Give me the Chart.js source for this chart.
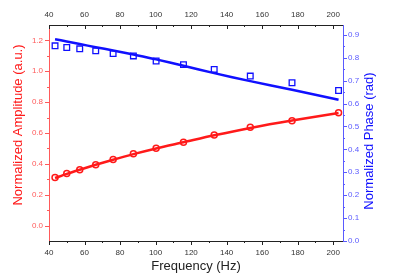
<!DOCTYPE html>
<html>
<head>
<meta charset="utf-8">
<script src="https://cdn.jsdelivr.net/npm/chart.js@4/dist/chart.umd.min.js"></script>
<style>
  html, body { margin: 0; padding: 0; background: #fff; }
  canvas { display: block; }
</style>
</head>
<body>
<canvas id="c" width="395" height="278"></canvas>
<script>
// Frequency points (Hz)
const freq = [43.4, 50, 57.3, 66.3, 76.1, 87.5, 100.3, 115.7, 133, 153.3, 176.8, 203];
// Normalized amplitude (measured, circles) and fit line
const ampData = [0.312, 0.337, 0.361, 0.395, 0.428, 0.465, 0.501, 0.540, 0.587, 0.637, 0.679, 0.731];
const ampFit = [0.308, 0.335, 0.362, 0.394, 0.427, 0.463, 0.500, 0.540, 0.585, 0.633, 0.681, 0.729];
// Normalized phase (measured, squares) and fit line
const phaseData = [0.852, 0.845, 0.839, 0.830, 0.818, 0.808, 0.786, 0.770, 0.749, 0.720, 0.691, 0.657];
const phaseFit = [0.881, 0.871, 0.860, 0.846, 0.832, 0.814, 0.793, 0.765, 0.733, 0.698, 0.660, 0.617];

// tick labels
const xTicks = [40, 60, 80, 100, 120, 140, 160, 180, 200];
const ampTicks = [0.0, 0.2, 0.4, 0.6, 0.8, 1.0, 1.2];
const phaseTicks = [0.0, 0.1, 0.2, 0.3, 0.4, 0.5, 0.6, 0.7, 0.8, 0.9];

const RED = '#ff1a1a';
const RED_AXIS = '#ff5a5a';
const BLUE = '#1010ff';
const BLUE_AXIS = '#5a5aff';
const FONT = '"Liberation Sans", Arial, sans-serif';

const pts = (xs, ys) => xs.map((x, i) => ({ x: x, y: ys[i] }));
const setTicks = vals => scale => { scale.ticks = vals.map(v => ({ value: v })); };
const fix = (prop, size) => scale => { scale[prop] = size; };
const mids = vals => vals.slice(0, -1).map((v, i) => (v + vals[i + 1]) / 2);

// tick marks (major + minor), top axis ticks point inward, and the two side titles
const tickMarks = {
  id: 'tickMarks',
  afterDraw(chart) {
    const ctx = chart.ctx, a = chart.chartArea, s = chart.scales;
    ctx.save();
    ctx.lineWidth = 1;
    const hor = (vals, y0, len, col) => {
      ctx.strokeStyle = col;
      vals.forEach(v => {
        const x = Math.round(s.x.getPixelForValue(v)) + 0.5;
        ctx.beginPath(); ctx.moveTo(x, y0); ctx.lineTo(x, y0 + len); ctx.stroke();
      });
    };
    const ver = (scale, vals, x0, len, col) => {
      ctx.strokeStyle = col;
      vals.forEach(v => {
        const y = Math.round(scale.getPixelForValue(v)) + 0.5;
        ctx.beginPath(); ctx.moveTo(x0, y); ctx.lineTo(x0 + len, y); ctx.stroke();
      });
    };
    hor(xTicks, a.bottom, 4, '#222'); hor(mids(xTicks), a.bottom, 2, '#222');
    hor(xTicks, a.top, 4, '#222'); hor(mids(xTicks), a.top, 2, '#222');
    ver(s.y, ampTicks, a.left, -4, RED_AXIS); ver(s.y, mids(ampTicks), a.left, -2, RED_AXIS);
    ver(s.y1, phaseTicks, a.right, 4, BLUE_AXIS); ver(s.y1, mids(phaseTicks), a.right, 2, BLUE_AXIS);

    const mid = (a.top + a.bottom) / 2;
    const sideTitle = (text, x, y, col) => {
      ctx.save();
      ctx.translate(x, y);
      ctx.rotate(-Math.PI / 2);
      ctx.fillStyle = col;
      ctx.font = '13px ' + FONT;
      ctx.textAlign = 'center';
      ctx.textBaseline = 'middle';
      ctx.fillText(text, 0, 0);
      ctx.restore();
    };
    sideTitle('Normalized Amplitude (a.u.)', a.left - 31, mid - 8, RED);
    sideTitle('Normalized Phase (rad)', a.right + 26, mid + 8, BLUE);
    ctx.restore();
  }
};

new Chart(document.getElementById('c'), {
  type: 'scatter',
  data: {
    datasets: [
      {
        label: 'Amplitude fit', data: pts(freq, ampFit), yAxisID: 'y', showLine: true,
        borderColor: RED, borderWidth: 2.5, pointRadius: 0, tension: 0.3
      },
      {
        label: 'Amplitude', data: pts(freq, ampData), yAxisID: 'y',
        pointStyle: 'circle', pointRadius: 3, borderWidth: 1.5,
        borderColor: RED, backgroundColor: 'transparent'
      },
      {
        label: 'Phase fit', data: pts(freq, phaseFit), yAxisID: 'y1', showLine: true,
        borderColor: BLUE, borderWidth: 2.5, pointRadius: 0, tension: 0.3
      },
      {
        label: 'Phase', data: pts(freq, phaseData), yAxisID: 'y1',
        pointStyle: 'rect', pointRadius: 4, borderWidth: 1.3,
        borderColor: BLUE, backgroundColor: 'transparent'
      }
    ]
  },
  options: {
    responsive: false,
    animation: false,
    layout: { padding: 0 },
    plugins: { legend: { display: false }, tooltip: { enabled: false } },
    scales: {
      x: {
        type: 'linear', position: 'bottom', min: 40, max: 205.5,
        afterBuildTicks: setTicks(xTicks), afterFit: fix('height', 37),
        grid: { drawOnChartArea: false, color: 'transparent', tickLength: 4 },
        border: { color: '#222' },
        ticks: { color: '#333', padding: 3, font: { family: FONT, size: 8 } },
        title: { display: true, text: 'Frequency (Hz)', color: '#222', padding: { top: 0, bottom: 4 }, font: { family: FONT, size: 13 } }
      },
      x2: {
        type: 'linear', position: 'top', min: 40, max: 205.5,
        afterBuildTicks: setTicks(xTicks), afterFit: fix('height', 25),
        grid: { drawOnChartArea: false, drawTicks: false },
        border: { color: '#222' },
        ticks: { color: '#333', padding: 5, font: { family: FONT, size: 8 } }
      },
      y: {
        type: 'linear', position: 'left', min: -0.1, max: 1.3,
        afterBuildTicks: setTicks(ampTicks), afterFit: fix('width', 49),
        grid: { drawOnChartArea: false, color: 'transparent', tickLength: 4 },
        border: { color: RED_AXIS },
        ticks: { color: RED_AXIS, padding: 2, font: { family: FONT, size: 8 }, callback: v => v.toFixed(1) }
      },
      y1: {
        type: 'linear', position: 'right', min: 0, max: 0.943,
        afterBuildTicks: setTicks(phaseTicks), afterFit: fix('width', 52),
        grid: { drawOnChartArea: false, color: 'transparent', tickLength: 3 },
        border: { color: BLUE_AXIS },
        ticks: { color: BLUE_AXIS, padding: 2, font: { family: FONT, size: 8 }, callback: v => v.toFixed(1) }
      }
    }
  },
  plugins: [tickMarks]
});
</script>
</body>
</html>
